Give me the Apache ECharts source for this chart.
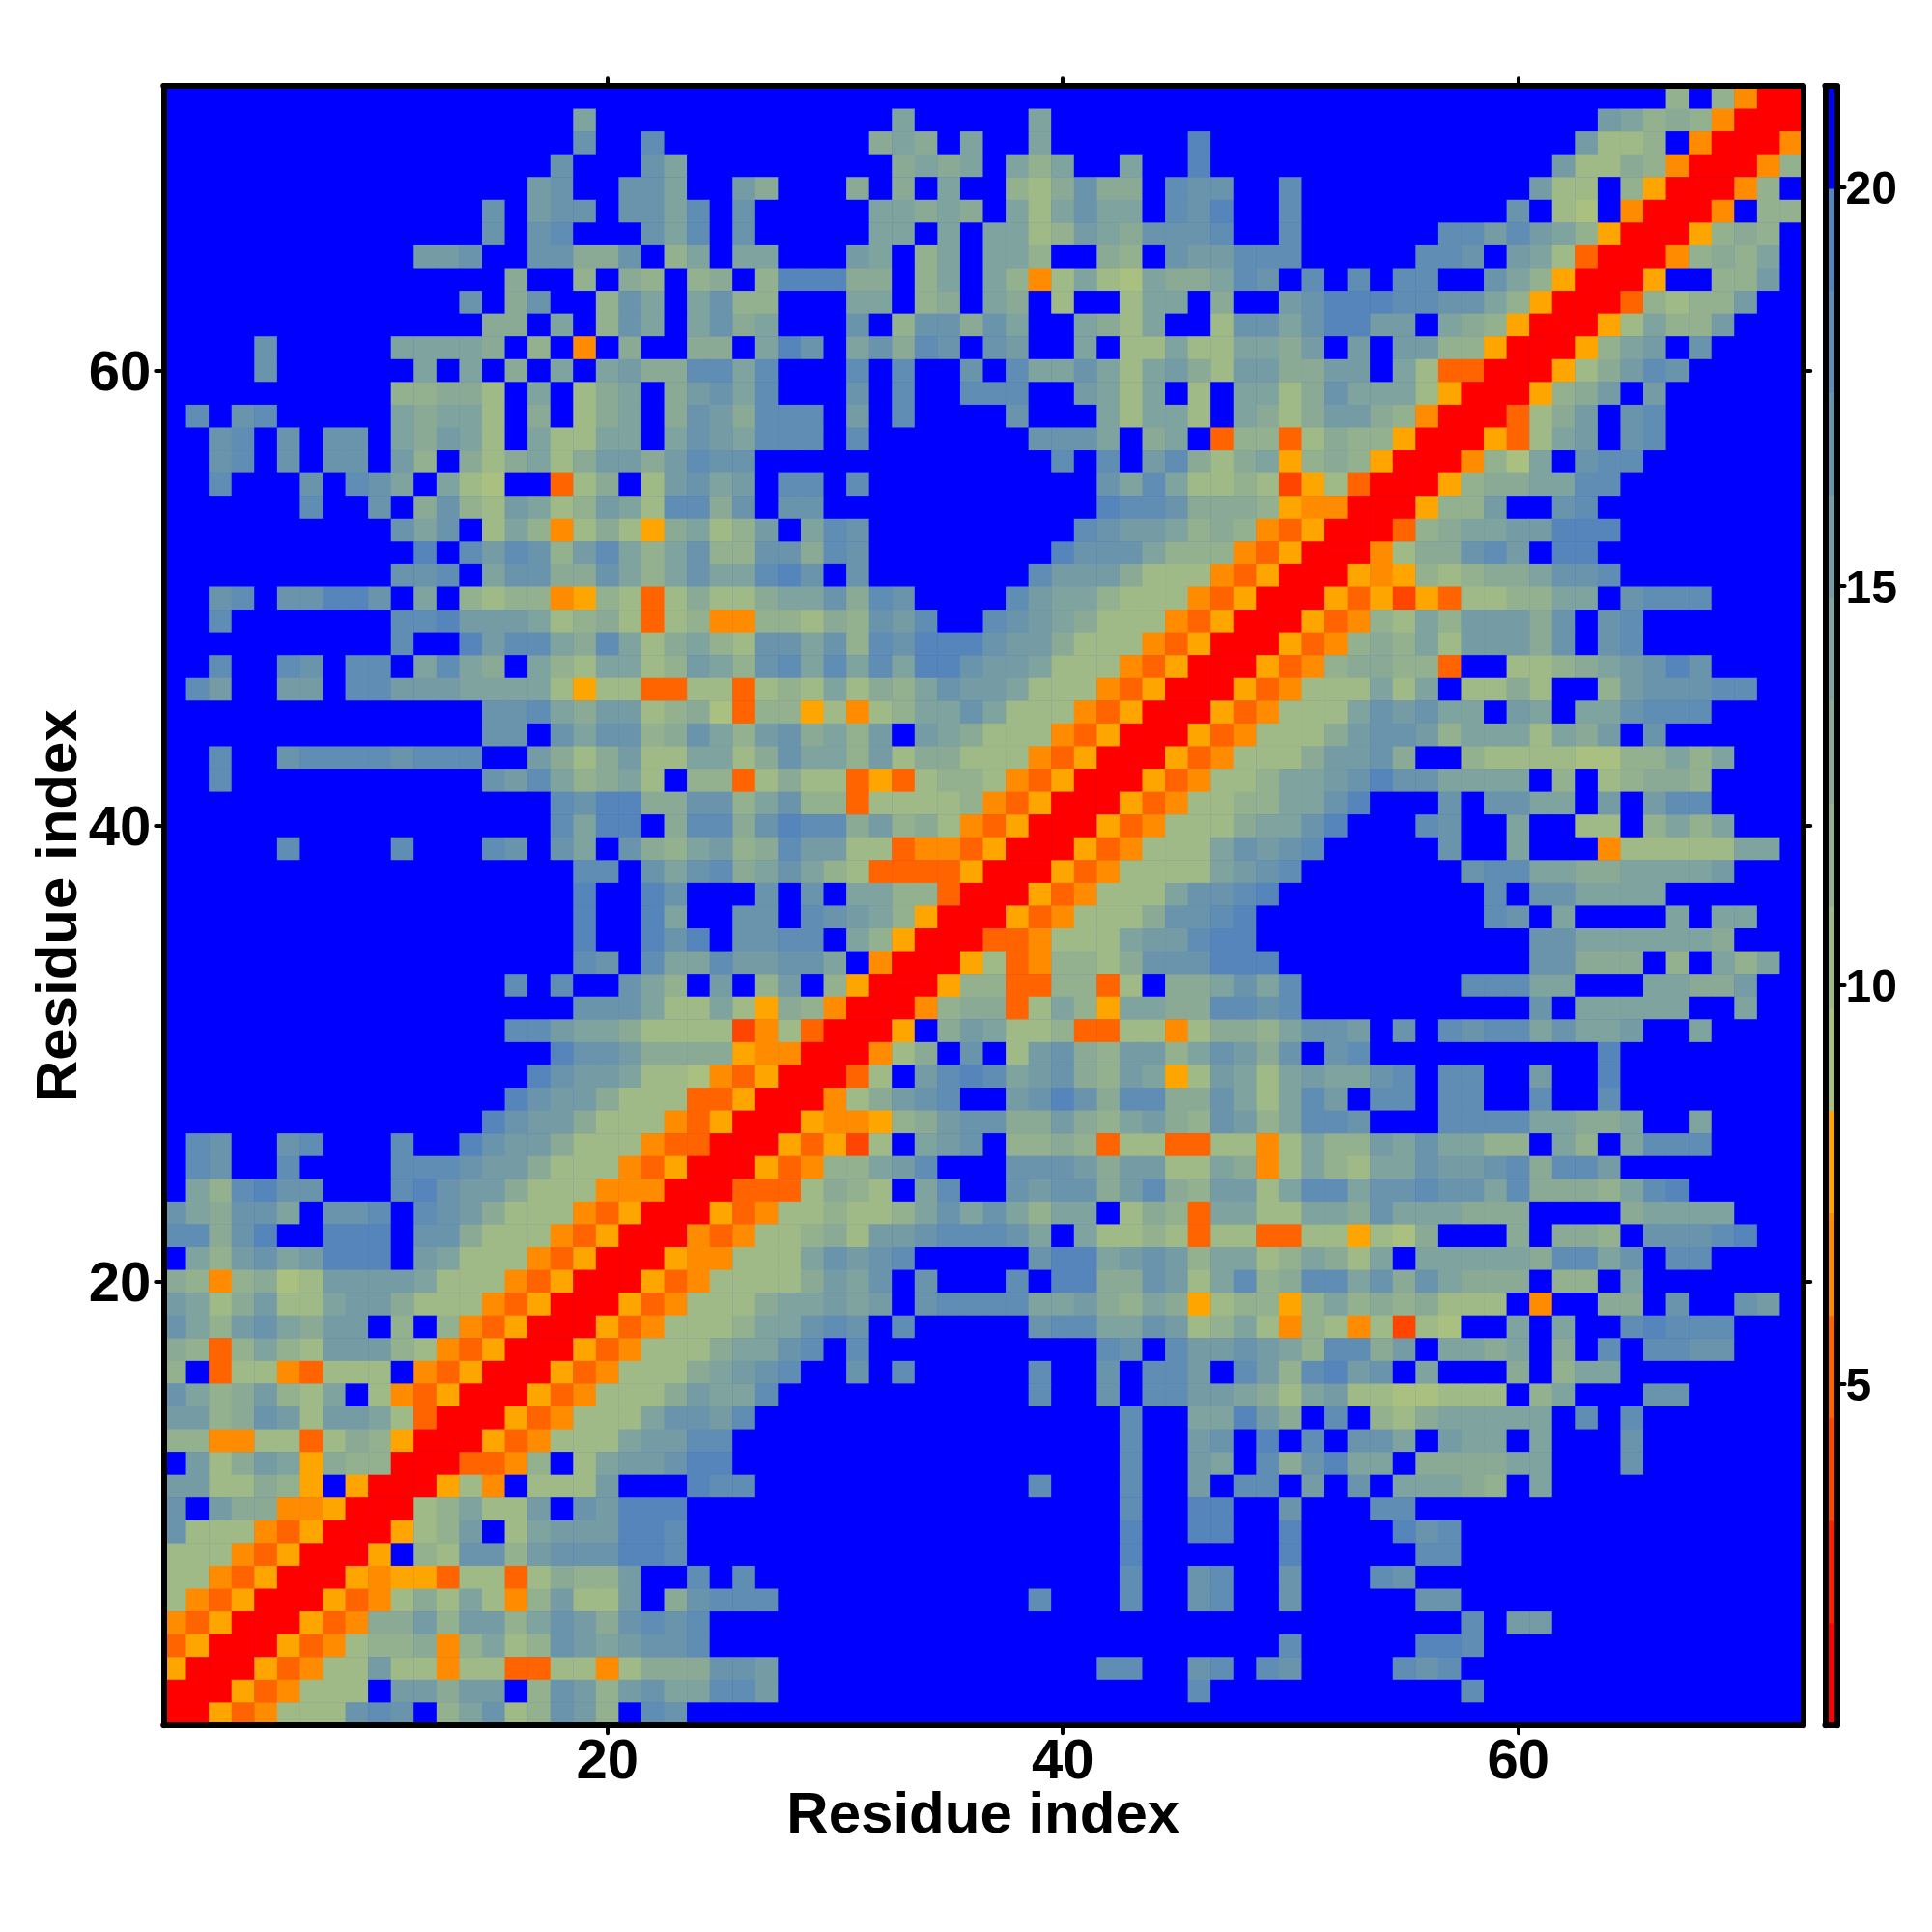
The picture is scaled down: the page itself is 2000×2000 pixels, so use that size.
<!DOCTYPE html>
<html>
<head>
<meta charset="utf-8">
<style>html,body{margin:0;padding:0;background:#fff}#c{width:2000px;height:2000px}</style>
<script src="https://cdn.jsdelivr.net/npm/echarts@6/dist/echarts.min.js"></script>
</head>
<body>
<div id="c"></div>
<script>
// Each row is one y residue, from 72 (top) down to 1. "n:" sets the column, hex digits are colour-bin indices; unlisted = bin f.
const distanceRows = [
"67:8f8400",
"19:a 33:a 39:a 64:ba8984000",
"19:c 22:d 32:9a9 36:a 39:a 46:e 63:b778f40004",
"18:c 22:ca 33:9a9a 38:a8a 43:a 46:e 62:b7798400048",
"17:bc 21:cca 26:b9 31:9 33:9fa 38:879c99 45:dcc 50:d 61:b77f8500048f",
"15:c 17:bcc 21:ccad 26:c 32:aa9a9 38:a7acaa 45:dce 50:d 60:cf76f40004f88",
"15:c 17:cd 22:cad 26:c 32:aafafaa78ba9cccd 50:d 57:ddbdba8500058 98f",
"12:bbc 17:cc99cf8a 26:aa 31:baf8afaa8ff98fcbbddd 56:ddcfba7300048 98af",
"16:9 19:8f98f89f8e ee99f8afa8 47a76a99ad cfdfdfddff ca850005ff 88bf",
"14:c 16:9c 20:8cafac88ff faaf89fa9f 7ff7aaf9ff bceeeddcca 8500038788 bff",
"15:99faf8cafa c9afffcf8c c9caffa97a ff7ccaceeb bfa9850005 7a88b",
"5:c 11:aaaa9f8f4f 9ff99faecf ac9dcfcbff af77a77aa9 bfbfbb8850 0058abfc",
"5:c 12:afaf9fafab 99ddadfffd fdffcfdaac a7ab97bb99 bbfa733000 579bdc",
"11:88997faf79 af9bcadfff cfdffdddff ba7af7faa7 9caaa75000 589bfb",
"2:d 4:cd 11:a9aa7f9f79 af9cb9dddf bfdffffcff fa7aa7fa97 9bb9840003 79bfcd",
"3:cd 6:c 8:cc 11:a9ba7fa77a afacbadddf dfffffffcc caf9af3883 7988500053 7abfcd",
"3:cd 6:c 8:cc 11:b8f979a79b b9bdccffff fffffffffd fdfbd979a5 8985000486 afcdd",
"3:d 7:c 9:dc 11:afa76ff379 f7bcabfddf dfffffffff fcada77872 5730005899 aadd",
"7:d 10:cf 12:9c87ba78ba 7dd9cfccff 42:eddc9998544000588bffcd",
"11:cacf7a8479 759a78bfad c 41:dcbba8984350003 89aabbeee",
"12:efdbdc8bda 8ac88cc9dc 40:eccca8884350004799cdbfee",
"11:ccdfacc99c a8acaadecfc 39:dbbb9777435000545878 99accd",
"3:cd 6:cceecfaf87 8845873797 79aac9dc 38:dbaa8777435000535253 7788aafcddd",
"3:d 11:ddebbba789 7378448879 8cbdff dcba977743 5000534 87a8bbb9cfcd",
"11:dffebdda9d a79a87ccac 8dceeecbb9 7774350005 34898a7bbb 9cfcd",
"3:d 6:dc 9:ddfada9fa87a a78ba8cdad adaeecbba7 7743500053 4899883ff7 789abcec",
"2:db 6:bb 9:ddbbbaaaa757 733773787a 798acbba77 7435000534 777a7af779 7ff8bcccdd",
"15:ccda9bb789 638857478a aca7774350 0053477 7ac bcaafbafaa cddd",
"15:ccfcacc89c a8bc9a8bfb a977743500 05347779bc cb8aaa7a9bfc",
"3:d 6:cddddcdddffb 979b77aa79 caa8b79977 7435000534 7779bbc9ff 877776688a8a",
"3:d 15:cbda89a7f8 8379773537 8874350005 34778aabce ccaaaaf8f78998",
"18:dcee99c c8ac883777 7843500053 47788aacef ffcfccaafbfbdd",
"18:daeef9d d9cedd9b89 7435000534 7779aacef f 55:fdcffaff77f8a8a",
"6:d 11:d 15:dc 18:cafc98a b89dbb7734 4350005347 77acbcd 57:c 60:a 64:477777aa",
"19:ddfcac d9aca87333 3500053477 77abcd 58:cddaa99aaaab",
"19:e 22:ec 27:cfcfaa883000534777accde 59:dfccaaaa",
"19:e 22:ea 26:ccfdcba85000534777 9ccde 59:dcfa 67:a 69:aa",
"19:e 22:ece 26:ccddfa85000334777abbdee 61:ccaaaaaa9",
"19:dc 22:daa dbbccaf400 057348879c cceee 61:cc999f8fa8a",
"16:d 18:dffca8fbf8 bf85000588 338837f99a cad 58:dddaafffaa99b",
"19:ccca77 a759840004 89937a85aa 99ddcd 61:cfaaaaaffa",
"16:ddbaa97777 2473000 5f9 ba77833774 7998accbfc fdcddacaab 68:a",
"18:eccb999954 4000479fcf 7bc98bb8ac b9cfcd 64:e",
"17:ecbba77643 500037fbde dabc98ba57 ba7abaacd 57:dd 61:b 64:e",
"16:ecbb977733 5000479bcd ffbcec9dd9 9ca7adbfdd 57:dd 61:d 64:d",
"15:ecbb9777435 000544589b cc99b98ab9 8cb8addc 57:ddddaa99a 68:a",
"2:dc 6:cd 11:d 14:ecbb97774330 0053527fab cf88983773 37747a88ba caa88fa8faddd",
"2:dc 6:d 11:dddcbb9777 4350005348 8abdfffccc b9bb77a947 a87aacbbcd9ddb",
"fa8deccfff decbb97774 4400033379 87fadffcbc c9bd98bb7a ddaccdccad 9998ade",
"ca9ccafccd fdcb977743 5000534778 778acaca8a af7983aa77 aa9caaa999 65:9aaaa",
"dd9ceffeee fcc9777435 0004347789 7bbcdddcaf a778737733 775769fff9 f998fcccde",
"fa8bcabeee fba7774350 00544777ac bcdfffffce eabcb8aa78 a97afaaaaa 9ddacfdd",
"9848967bbb ba77743500 053477779b acfcfffdfe e99cb7ad89 ddac9ca999 f88fa",
"ba79b77abb 9777435000 5347779aab abfcddddaa b98a957885 8a8989777f4 64:99fc 70:cb",
"ca8bca9bbf 8f84350005 347778aacd cfd 39:cddaacb78a 748747276f fafaffdedd d",
"9838a87bbb 8743500053 47779aacdfd 42:dcfdbbcba8 dd9bfaa9af 9fdfddcc",
"8f37743777 f435000534 7779abcdffc 33:d 39:d 42:cfddbfdb8debcfa 60:9 62:8aa",
"ca89b87af7 4350005347 779baad 39:d 42:cfddbba97ab7766777f8a 66:cc",
"bb89cb7bba 7300053477 7accbd 43:d 46:aaeb9fdf879aaaaafdfd",
"8844773798 5000534777 abbdd 43:d 46:bcfefdfccafbaafa 65:c",
"fb79ba5988 0003348f7a bbcee 43:d 46:bafd9ceaaf9999aa 65:c",
"bb77985f50 00574f777b fffedd 39:d 43:d 46:bfddfbfcfaaa98fa",
"cfb9944500 078a77bfcbeee 43:d 46:ee 50:c 54:dd",
"c777435000 578bf7abbbeed 43:e 46:ee 50:e 55:ecd",
"7774350005 f87cc8bccceed 43:e 50:e 56:dd",
"7743500054 5537737988bffdfd 43:d 46:cd 50:c 54:dc",
"7435000534 797a748b77bf9cddd 39:d 43:d 46:cd 50:c 56:cc",
"4350005349 9b8bb8acb9cdcd 58:d 60:bb",
"3500053478 8948a78cbabccd 50:d 56:eed",
"500053477b 77477337747999 ccb 42:dd 46:cd 49:dc 55:dcd",
"000534777f bb9bbf8cb8bcaaddb 46:d 58:d",
"00534777cdcf8ac78cb8fdc"
];
const residues = Array.from({length: 72}, (_, i) => String(i + 1));
const residueTicks = ['20', '40', '60'];
const barTicks = [5, 10, 15, 20];
const binColors = ['#ff0000','#ff2000','#ff4500','#ff6400','#ff8c00','#ffa500','#a9c080','#9fb987','#94b18f','#8aaa96','#7fa39e','#759ba5','#6a94ac','#608db4','#5585bb','#0000ff'];
const valueMin = 0.73, valueMax = 21.26;

const binWidth = (valueMax - valueMin) / binColors.length;
const binValue = i => valueMin + (i + 0.5) * binWidth;
function decodeRow(spec) {
  const row = new Array(72).fill(15);
  let col = 1;
  spec.split(' ').forEach(tok => {
    let s = tok;
    if (tok.indexOf(':') >= 0) { const p = tok.split(':'); col = +p[0]; s = p[1]; }
    for (const ch of s) { if (col <= 72) row[col - 1] = parseInt(ch, 16); col++; }
  });
  return row;
}
const cells = [];
distanceRows.forEach((spec, t) => {
  decodeRow(spec).forEach((bin, c) => cells.push([c, 71 - t, binValue(bin)]));
});
const barCells = binColors.map((_, i) => [0, i, binValue(i)]);

const FONT = 'Liberation Sans';
const black = '#000';
const frame = {show: true, lineStyle: {color: black, width: 6, cap: 'round'}};
const showTick = (i, v) => residueTicks.indexOf(String(v)) >= 0;
const tick = {show: true, interval: showTick, alignWithLabel: true, length: 8, lineStyle: {color: black, width: 4, cap: 'round'}};
const noTick = {show: false};
const label = {show: true, interval: showTick, color: black, fontFamily: FONT, fontWeight: 'bold', fontSize: 58};
const nameStyle = {color: black, fontFamily: FONT, fontWeight: 'bold', fontSize: 60};

const option = {
  animation: false,
  backgroundColor: '#fff',
  grid: [
    {left: 169.25, top: 89.2, width: 1697, height: 1697, show: true, backgroundColor: binColors[15], borderWidth: 0, containLabel: false, outerBoundsMode: 'none'},
    {left: 1889.4, top: 89.2, width: 12.2, height: 1697, show: false, containLabel: false, outerBoundsMode: 'none'}
  ],
  xAxis: [
    {type: 'category', gridIndex: 0, data: residues, position: 'bottom', z: 10, axisLine: frame, axisTick: tick,
     axisLabel: Object.assign({margin: 10}, label), splitLine: {show: false}, splitArea: {show: false},
     name: 'Residue index', nameLocation: 'middle', nameGap: 64, nameMoveOverlap: false, nameTextStyle: nameStyle},
    {type: 'category', gridIndex: 0, data: residues, position: 'top', z: 10, axisLine: frame, axisTick: tick,
     axisLabel: {show: false}, splitLine: {show: false}},
    {type: 'category', gridIndex: 1, data: ['c'], position: 'bottom', z: 10, axisLine: frame, axisTick: noTick, axisLabel: {show: false}},
    {type: 'category', gridIndex: 1, data: ['c'], position: 'top', z: 10, axisLine: frame, axisTick: noTick, axisLabel: {show: false}}
  ],
  yAxis: [
    {type: 'category', gridIndex: 0, data: residues, position: 'left', z: 10, axisLine: frame, axisTick: tick,
     axisLabel: Object.assign({margin: 13, verticalAlign: 'top', lineHeight: 8}, label), splitLine: {show: false}, splitArea: {show: false},
     name: 'Residue index', nameLocation: 'middle', nameGap: 77, nameRotate: 90, nameMoveOverlap: false, nameTextStyle: nameStyle},
    {type: 'category', gridIndex: 0, data: residues, position: 'right', z: 10, axisLine: frame, axisTick: tick,
     axisLabel: {show: false}, splitLine: {show: false}},
    {type: 'category', gridIndex: 1, data: binColors.map((_, i) => String(i)), position: 'left', z: 10, axisLine: frame, axisTick: noTick, axisLabel: {show: false}},
    {type: 'value', gridIndex: 1, min: valueMin, max: valueMax, position: 'right', z: 10, axisLine: frame, splitLine: {show: false},
     axisTick: {show: true, customValues: barTicks, length: 8, lineStyle: {color: black, width: 4, cap: 'round'}},
     axisLabel: {show: true, customValues: barTicks, margin: 9, verticalAlign: 'top', lineHeight: 8, color: black, fontFamily: FONT, fontWeight: 'bold', fontSize: 48, formatter: v => String(Math.round(v))}}
  ],
  visualMap: {
    type: 'piecewise', show: false, seriesIndex: [0, 1], dimension: 2,
    pieces: binColors.map((color, i) => ({min: valueMin + i * binWidth, max: valueMin + (i + 1) * binWidth, color}))
  },
  series: [
    {type: 'heatmap', xAxisIndex: 0, yAxisIndex: 0, data: cells, progressive: 0, itemStyle: {borderWidth: 0}, emphasis: {disabled: true}},
    {type: 'heatmap', xAxisIndex: 2, yAxisIndex: 2, data: barCells, progressive: 0, itemStyle: {borderWidth: 0}, emphasis: {disabled: true}}
  ]
};
const chart = echarts.init(document.getElementById('c'), null, {renderer: 'canvas', width: 2000, height: 2000});
chart.setOption(option);
</script>
</body>
</html>
